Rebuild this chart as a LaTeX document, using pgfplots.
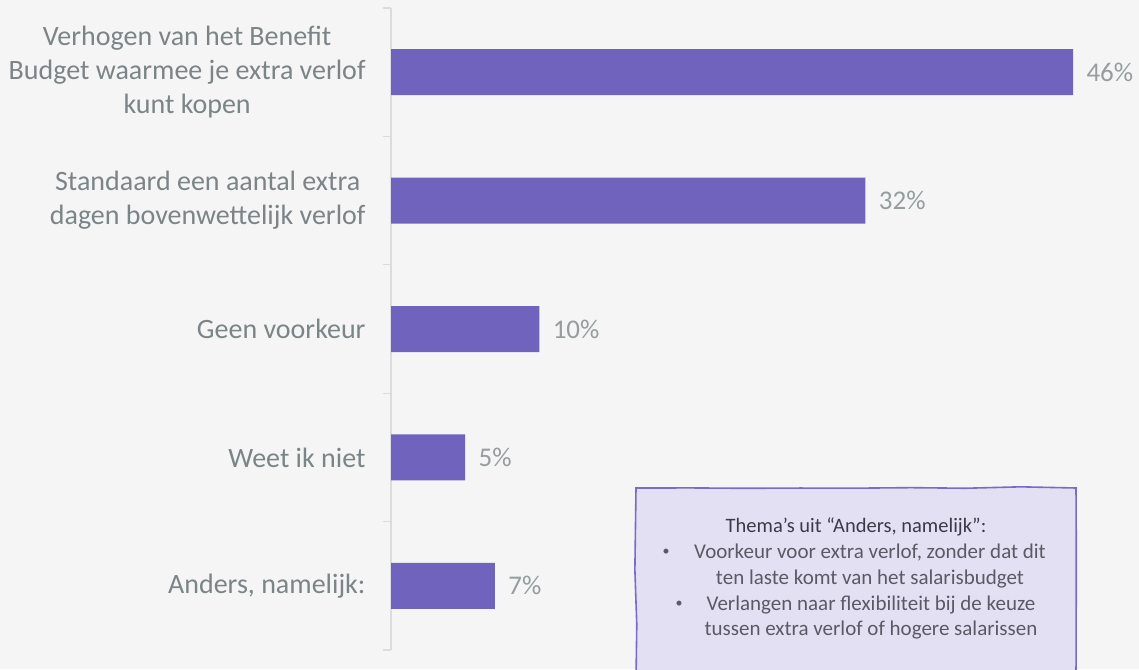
\documentclass[border=0pt]{standalone}
\usepackage{fontspec}
\setmainfont{Carlito}
\usepackage{pgfplots}
\pgfplotsset{compat=1.18}
\usetikzlibrary{decorations.pathmorphing}

\definecolor{bgc}{HTML}{F5F5F5}
\definecolor{barc}{HTML}{7063BE}
\definecolor{labc}{HTML}{7B8487}
\definecolor{valc}{HTML}{959D9F}
\definecolor{axc}{HTML}{DCDCDC}
\definecolor{boxfill}{HTML}{E3E0F3}
\definecolor{boxline}{HTML}{7A6BC9}
\definecolor{boxtxt}{HTML}{5A5A66}
\definecolor{titletxt}{HTML}{3A3A48}

\begin{document}
\begin{tikzpicture}
\clip (0,0) rectangle (1139pt,669pt);
\fill[bgc] (0,0) rectangle (1139pt,669pt);

\begin{axis}[
  at={(391pt,19pt)}, anchor=south west,
  scale only axis,
  width=682pt, height=642pt,
  xbar, bar width=46pt,
  xmin=0, xmax=46,
  ymin=-0.5, ymax=4.5,
  y dir=reverse,
  axis x line=none,
  axis y line*=left,
  y axis line style={axc, line width=1.2pt, -},
  ytick={0,1,2,3,4},
  yticklabels={{Verhogen van het Benefit\\Budget waarmee je extra verlof\\kunt kopen},
               {Standaard een aantal extra\\dagen bovenwettelijk verlof},
               {Geen voorkeur},{Weet ik niet},{Anders, namelijk:}},
  minor ytick={-0.5,0.5,1.5,2.5,3.5,4.5},
  major tick length=0pt,
  minor tick length=8pt,
  tick align=outside,
  minor tick style={axc, line width=1.2pt},
  yticklabel style={align=center, text=labc, font=\fontsize{28}{34}\selectfont,
                    xshift=-22pt},
  /pgf/number format/assume math mode=true,
  nodes near coords={\pgfmathprintnumber{\pgfplotspointmeta}\%},
  nodes near coords style={text=valc, font=\fontsize{27}{32}\selectfont,
                           anchor=west, xshift=10pt},
  clip=false,
]
\addplot[fill=barc, draw=none] coordinates {
  (46,0) (32,1) (10,2) (5,3) (7,4)
};
\end{axis}

\draw[boxline, fill=boxfill, line width=1.6pt,
      decorate, decoration={random steps, segment length=55pt, amplitude=1.2pt}]
  (636pt,-10pt) -- (636pt,181pt) -- (1076pt,181pt) -- (1076pt,-10pt) -- cycle;

\node[text=titletxt, font=\fontsize{20.5}{24}\selectfont] at (856pt,142pt)
  {Thema’s uit “Anders, namelijk”:};
\begin{scope}[every node/.style={text=boxtxt, font=\fontsize{21}{25}\selectfont, inner sep=0pt}]
\node at (870pt,116pt) {Voorkeur voor extra verlof, zonder dat dit};
\node at (870pt,90pt) {ten laste komt van het salarisbudget};
\node at (871pt,64pt) {Verlangen naar flexibiliteit bij de keuze};
\node at (871pt,39pt) {tussen extra verlof of hogere salarissen};
\node[font=\fontsize{14}{16}\selectfont] at (666pt,117pt) {•};
\node[font=\fontsize{14}{16}\selectfont] at (679pt,65pt) {•};
\end{scope}
\end{tikzpicture}
\end{document}
